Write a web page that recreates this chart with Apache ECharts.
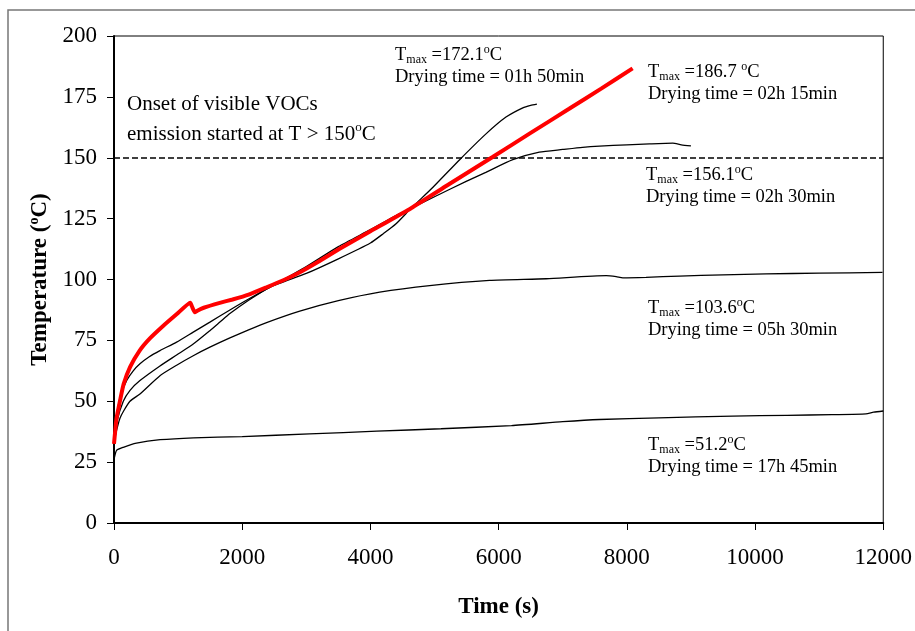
<!DOCTYPE html>
<html>
<head>
<meta charset="utf-8">
<script src="https://cdn.jsdelivr.net/npm/echarts@6/dist/echarts.min.js"></script>
<style>
html,body{margin:0;padding:0;background:#fff;}
#chart{width:915px;height:631px;}
</style>
</head>
<body>
<div id="chart"></div>
<script>
// ---- data ----
const xTicks = [0, 2000, 4000, 6000, 8000, 10000, 12000];
const yTicks = [0, 25, 50, 75, 100, 125, 150, 175, 200];
const onsetTemp = 150;

// Tmax = 186.7 C, drying 02h 15min (red)
const redTime = [0, 40, 100, 150, 250, 400, 560, 770, 980, 1190, 1215, 1260, 1300, 1400, 1650, 1850, 2100, 2380, 2650, 2900, 3200, 3520, 4000, 4640, 5200, 5900, 6500, 7100, 7600, 8090];
const redTemp = [32.5, 43, 51, 57, 64, 70.8, 75.8, 81, 85.8, 90.5, 89, 86.5, 87.2, 88.4, 90.4, 91.8, 93.8, 96.8, 99.8, 103, 107.5, 112.6, 119.8, 129.4, 138.7, 150.2, 160.2, 170.1, 178.4, 186.7];

// Tmax = 172.1 C, drying 01h 50min
const aTime = [0, 50, 145, 250, 405, 717, 977, 1236, 1496, 1652, 1808, 2100, 2431, 3000, 3500, 4000, 4200, 4400, 4640, 4976, 5392, 5803, 6115, 6377, 6500, 6597];
const aTemp = [33, 42, 50, 54.5, 58.5, 64.5, 69, 73.5, 79, 82.5, 86, 91.5, 96.8, 102.5, 108.5, 115, 118.8, 122.9, 129.4, 137.9, 149.2, 159.8, 166.7, 170.5, 171.5, 172.0];

// Tmax = 156.1 C, drying 02h 30min
const bTime = [0, 40, 100, 198, 300, 405, 550, 717, 977, 1236, 1496, 1808, 2100, 2431, 3000, 3500, 4000, 4400, 4640, 5000, 5494, 5800, 6221, 6634, 7000, 7309, 7574, 8000, 8353, 8717, 8850, 9000];
const bTemp = [33, 44, 52, 58.5, 62.5, 65.4, 68.3, 70.8, 74.3, 78.4, 82.5, 87.5, 92, 96.8, 105.3, 113.5, 120.5, 126.3, 129.4, 134, 140.3, 144, 149.2, 152.3, 153.4, 154.3, 154.8, 155.3, 155.7, 156.0, 155.3, 154.9];

// Tmax = 103.6 C, drying 05h 30min
const cTime = [0, 40, 93, 150, 249, 405, 717, 977, 1236, 1496, 1808, 2100, 2380, 2898, 3500, 4145, 4924, 5859, 6743, 7678, 7834, 7937, 8300, 8820, 9500, 10171, 11000, 11989];
const cTemp = [33, 38, 43, 46, 50, 53, 60.5, 64.8, 68.7, 72.2, 76, 79.3, 82.3, 87, 91.3, 94.8, 97.5, 99.6, 100.3, 101.6, 101.2, 100.7, 100.9, 101.4, 101.9, 102.3, 102.6, 102.9];

// Tmax = 51.2 C, drying 17h 45min
const dTime = [0, 40, 145, 350, 720, 1240, 2000, 3050, 4100, 5100, 6200, 7000, 7574, 8500, 9650, 10500, 11200, 11730, 11850, 12000];
const dTemp = [26, 29.8, 31.1, 32.8, 34.2, 35, 35.5, 36.6, 37.7, 38.7, 40, 41.6, 42.5, 43.2, 43.9, 44.2, 44.5, 44.8, 45.5, 46];

// ---- chart ----
const FONT = 'Liberation Serif';
function zip(t, v) { return t.map((x, i) => [x, v[i]]); }

function thin(name, t, v) {
  return {
    name: name, type: 'line', data: zip(t, v), showSymbol: false, smooth: 0.2,
    lineStyle: { color: '#000', width: 1.3 }, z: 3, silent: true
  };
}

const richBase = {
  a: { fontFamily: FONT, fontSize: 18.5, lineHeight: 22, color: '#000' },
  s: { fontFamily: FONT, fontSize: 12, lineHeight: 10, verticalAlign: 'bottom', color: '#000' },
  o: { fontFamily: FONT, fontSize: 12, lineHeight: 10, verticalAlign: 'top', color: '#000' }
};

function annot(x, yc, tmax, dry) {
  return [
    { type: 'text', left: x, top: yc - 11, z: 10,
      style: { text: '{a|T}{s|max}{a| =' + tmax + '}{o|o}{a|C}', rich: richBase } },
    { type: 'text', left: x, top: yc + 24 - 11, z: 10,
      style: { text: 'Drying time = ' + dry, fontFamily: FONT, fontSize: 18.5, fill: '#000' } }
  ];
}

const chart = echarts.init(document.getElementById('chart'), null, { renderer: 'canvas' });

const graphics = [
  { type: 'rect', shape: { x: 8, y: 10, width: 1000, height: 1000 }, style: { fill: 'none', stroke: '#777', lineWidth: 1.5 }, silent: true, z: -1 },
  { type: 'text', left: 127, top: 94, z: 10,
    style: { text: 'Onset of visible VOCs', fontFamily: FONT, fontSize: 21, fill: '#000' } },
  { type: 'text', left: 127, top: 121, z: 10,
    style: { text: '{b|emission started at T > 150}{p|o}{b|C}',
      rich: { b: { fontFamily: FONT, fontSize: 21, lineHeight: 26, color: '#000' },
              p: { fontFamily: FONT, fontSize: 13, lineHeight: 12, verticalAlign: 'top', color: '#000' } } } }
].concat(
  annot(395, 55, '172.1', '01h 50min'),
  annot(648, 72, '186.7 ', '02h 15min'),
  annot(646, 175, '156.1', '02h 30min'),
  annot(648, 308, '103.6', '05h 30min'),
  annot(648, 445, '51.2', '17h 45min')
);

chart.setOption({
  animation: false,
  backgroundColor: '#fff',
  grid: { left: 114, top: 36, width: 770, height: 487, show: true, borderColor: '#000', borderWidth: 1, backgroundColor: 'transparent' },
  xAxis: {
    type: 'value', min: xTicks[0], max: xTicks[xTicks.length - 1], interval: 2000,
    name: 'Time (s)', nameLocation: 'middle', nameGap: 73,
    nameTextStyle: { fontFamily: FONT, fontSize: 23, fontWeight: 'bold', color: '#000' },
    axisLine: { show: true, onZero: false, lineStyle: { color: '#000', width: 2 } },
    axisTick: { show: true, inside: false, length: 7, lineStyle: { color: '#000', width: 1 } },
    axisLabel: { fontFamily: FONT, fontSize: 23, color: '#000', margin: 23, formatter: v => String(v) },
    splitLine: { show: false }
  },
  yAxis: {
    type: 'value', min: yTicks[0], max: yTicks[yTicks.length - 1], interval: 25,
    name: '{t|Temperature (}{u|o}{t|C)}', nameLocation: 'middle', nameGap: 61,
    nameTextStyle: {
      rich: {
        t: { fontFamily: FONT, fontSize: 23, fontWeight: 'bold', color: '#000', lineHeight: 26 },
        u: { fontFamily: FONT, fontSize: 14, fontWeight: 'bold', color: '#000', lineHeight: 12, verticalAlign: 'top' }
      }
    },
    axisLine: { show: true, lineStyle: { color: '#000', width: 2 } },
    axisTick: { show: true, inside: false, length: 7, lineStyle: { color: '#000', width: 1 } },
    axisLabel: { fontFamily: FONT, fontSize: 23, color: '#000', margin: 17, formatter: v => String(v) },
    splitLine: { show: false }
  },
  series: [
    thin('Tmax 51.2', dTime, dTemp),
    thin('Tmax 103.6', cTime, cTemp),
    thin('Tmax 156.1', bTime, bTemp),
    Object.assign(thin('Tmax 172.1', aTime, aTemp), {
      markLine: {
        silent: true, symbol: 'none', label: { show: false },
        lineStyle: { color: '#000', type: [6, 3], width: 1.6 },
        data: [[{ coord: [xTicks[0], onsetTemp] }, { coord: [xTicks[xTicks.length - 1], onsetTemp] }]]
      }
    }),
    {
      name: 'Tmax 186.7', type: 'line', data: zip(redTime, redTemp), showSymbol: false, smooth: 0.15,
      lineStyle: { color: '#ff0000', width: 4 }, z: 5, silent: true
    }
  ],
  graphic: graphics
});
</script>
</body>
</html>
